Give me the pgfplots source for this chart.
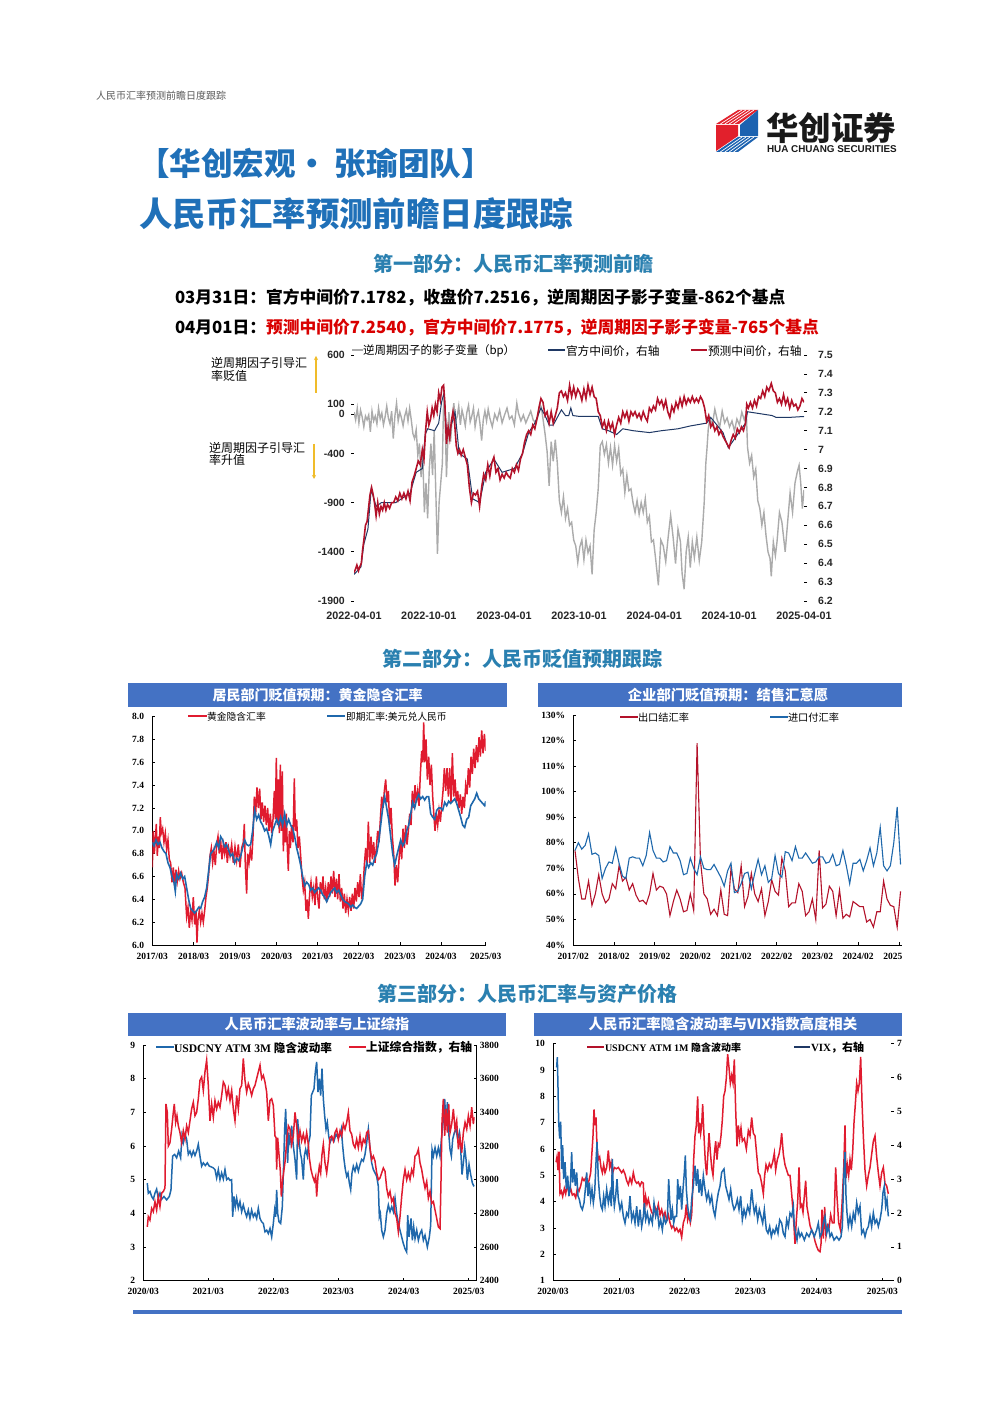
\documentclass[border=0pt]{standalone}
\usepackage{pgfplots}
\pgfplotsset{compat=1.18}
\usepackage{fontspec}
\setmainfont{Liberation Serif}
\newfontfamily\lsans{Liberation Sans}
\newfontfamily\cjk{Noto Sans CJK SC}
\usetikzlibrary{arrows.meta}
\definecolor{bar}{HTML}{4472C4}
\definecolor{ttl}{HTML}{1F70B8}
\definecolor{sec}{HTML}{2A80B0}
\definecolor{rd}{HTML}{E01B2F}
\definecolor{dred}{HTML}{B3122A}
\definecolor{bl}{HTML}{1F68AC}
\definecolor{navy}{HTML}{1F3864}
\definecolor{gy}{HTML}{ABABAB}
\definecolor{gold}{HTML}{F0BC2A}
\definecolor{lr}{HTML}{E2202C}
\definecolor{lb}{HTML}{1C62B0}
\newcommand{\fs}[1]{\fontsize{#1}{#1}\selectfont}
\newcommand{\T}[4][west]{\node[anchor=#1,inner sep=0pt,outer sep=0pt] at ({#2},{1403-#3-0.8}) {#4};}
\newcommand{\LL}[4]{\draw[#4,line width=1.1pt] ({#1},{1403-#3})--({#2},{1403-#3});}
\newcommand{\BAR}[7]{\fill[bar] ({#1},{1403-#2}) rectangle ({#3},{1403-#4});
 \node[white,inner sep=0pt] at ({#6},{1403-(#2+#4)/2}) {\cjk\bfseries\fs{#7}#5};}
\pgfplotsset{sub/.style={scale only axis,tick align=inside,major tick length=3pt,
 tick style={black,line width=.6pt},axis line style={black,line width=.8pt},
 tick label style={font=\bfseries\fs{9.5},inner sep=2pt},axis y line*=left,axis x line*=bottom,
 xtick pos=bottom,xticklabel style={yshift=-5.5pt},yticklabel style={xshift=-6pt}},
 mainc/.style={scale only axis,major tick length=3pt,tick align=outside,axis line style={draw=none},
 tick style={black,line width=.7pt},xtick style={draw=none},
 tick label style={font=\lsans\bfseries\fs{10.5},inner sep=2pt,text=black!85},
 xticklabel style={yshift=-6pt,font=\lsans\bfseries\fs{10.8}}}}
\begin{document}
\begin{tikzpicture}[x=1pt,y=1pt]
\path[use as bounding box,fill=white] (0,0) rectangle (992,1403);
% ---------- header
\T{96}{95}{\cjk\fs{10}\color{black!65}人民币汇率预测前瞻日度跟踪}
\fill[lr] (716,{1403-125})--(738,{1403-125})--(738,{1403-136})--(716,{1403-151})--cycle;
\fill[lr] (716,{1403-124})--(738,{1403-110})--(758,{1403-110})--(739,{1403-124})--cycle;
\foreach \d in {4,8,12,16}{\draw[white,line width=.7pt] ({716+\d*1.1},{1403-124})--({738+\d},{1403-110});}
\fill[lb] (740,{1403-125})--(758,{1403-110})--(758,{1403-136})--(740,{1403-136})--cycle;
\fill[lb] (716,{1403-152})--(738,{1403-137})--(758,{1403-137})--(738,{1403-152})--cycle;
\foreach \d in {4,8,12,16}{\draw[white,line width=.7pt] ({716+\d*1.1},{1403-152})--({738+\d},{1403-137});}
\T[west]{766}{127}{\cjk\bfseries\fs{32.5}\color{black!90}华创证券}
\T[west]{767}{148.5}{\lsans\bfseries\fs{9.9}\color{black!90}HUA CHUANG SECURITIES}
\T{138}{163}{\cjk\bfseries\fs{31.6}\color{ttl}【华创宏观· 张瑜团队】}
\T{139}{213}{\cjk\bfseries\fs{33.4}\color{ttl}人民币汇率预测前瞻日度跟踪}
\T{373}{263}{\cjk\bfseries\fs{20}\color{sec}第一部分：人民币汇率预测前瞻}
\T{175}{297}{\cjk\bfseries\fs{16.75}\color{black}03月31日：官方中间价7.1782，收盘价7.2516，逆周期因子影子变量-862个基点}
\T{175}{327}{\cjk\bfseries\fs{16.75}\color{black}04月01日：\color{red!85!black}预测中间价7.2540，官方中间价7.1775，逆周期因子影子变量-765个基点}
\T{382}{658}{\cjk\bfseries\fs{20}\color{sec}第二部分：人民币贬值预期跟踪}
\T{377}{993}{\cjk\bfseries\fs{20}\color{sec}第三部分：人民币汇率与资产价格}
% ---------- chart 1
\begin{axis}[mainc,at={(354pt,802pt)},anchor=south west,width=450pt,height=246pt,
 xmin=378,xmax=1478,ymin=-1900,ymax=600,axis y line*=left,axis x line*=bottom,
 xtick={378,561,745,928,1112,1295,1478},
 xticklabels={2022-04-01,2022-10-01,2023-04-01,2023-10-01,2024-04-01,2024-10-01,2025-04-01},
 ytick={600,100,0,-400,-900,-1400,-1900},yticklabels={600,100,0,-400,-900,-1400,-1900},
 ytick pos=left,yticklabel style={xshift=-4pt}]
\addplot[gy,line width=1.4pt] coordinates {(378,20)(382,-60)(386,60)(390,-90)(394,40)(398,-30)(402,-130)(406,-20)(410,-60)(414,-10)(418,-180)(422,30)(426,-70)(430,-20)(434,-100)(438,60)(442,-50)(446,10)(450,-110)(454,-30)(458,80)(462,-40)(466,-100)(470,30)(474,-250)(478,-20)(482,110)(486,-70)(490,20)(494,-40)(498,-120)(502,-20)(506,40)(510,-70)(514,60)(518,-60)(522,-200)(526,-250)(530,-160)(534,-420)(538,-300)(542,-640)(546,-400)(550,-1000)(554,-700)(558,-1060)(562,-560)(566,-300)(570,-620)(574,-170)(578,-800)(582,-1420)(586,-900)(590,-700)(594,-500)(597,130)(600,90)(604,-640)(610,20)(614,-280)(618,-40)(622,110)(626,-80)(630,-30)(634,80)(638,-110)(642,40)(646,-30)(650,-120)(654,20)(658,90)(662,-80)(666,-20)(670,60)(674,-130)(678,-30)(682,30)(686,-100)(690,-270)(694,-60)(698,30)(702,-70)(706,50)(710,-40)(716,-130)(722,0)(728,-60)(734,40)(740,-90)(746,-10)(752,60)(758,-50)(764,-20)(770,-110)(776,110)(780,10)(786,-70)(792,-10)(798,-90)(804,-30)(810,30)(816,-60)(822,-90)(828,-20)(832,100)(836,70)(840,-50)(845,-200)(850,-380)(855,-730)(860,-280)(865,-480)(870,-260)(875,-500)(880,-880)(885,-1000)(890,-840)(895,-1060)(900,-960)(905,-1130)(910,-1100)(915,-1280)(920,-1340)(925,-1510)(930,-1350)(935,-1280)(940,-1480)(945,-1280)(950,-1410)(955,-1340)(960,-1630)(965,-1180)(970,-1000)(975,-760)(980,-320)(985,-280)(990,-410)(995,-310)(1000,-500)(1005,-340)(1010,-520)(1015,-320)(1020,-480)(1025,-350)(1030,-610)(1035,-560)(1040,-800)(1045,-620)(1050,-780)(1055,-760)(1060,-900)(1065,-1000)(1070,-880)(1075,-1020)(1080,-900)(1085,-1000)(1090,-860)(1095,-1100)(1100,-1040)(1105,-1300)(1110,-1280)(1115,-1460)(1122,-1740)(1128,-1280)(1134,-1340)(1140,-1500)(1146,-1250)(1152,-1030)(1158,-1250)(1164,-1520)(1170,-1170)(1176,-1300)(1180,-1620)(1185,-1780)(1190,-1400)(1195,-1250)(1200,-1560)(1205,-1300)(1210,-1460)(1216,-1250)(1222,-1490)(1228,-1300)(1234,-900)(1238,-500)(1241,-340)(1244,-150)(1248,-40)(1254,-110)(1260,50)(1266,-60)(1272,-130)(1278,30)(1284,-90)(1290,-40)(1296,-130)(1302,-70)(1308,-170)(1314,-50)(1320,-110)(1326,20)(1332,-60)(1337,10)(1340,-340)(1345,-500)(1350,-420)(1355,-640)(1360,-560)(1365,-880)(1370,-960)(1375,-1130)(1380,-1000)(1385,-1230)(1390,-1400)(1395,-1470)(1398,-1650)(1403,-1300)(1408,-1440)(1412,-1300)(1418,-1000)(1424,-1100)(1432,-1400)(1438,-1100)(1444,-800)(1450,-1000)(1456,-700)(1462,-580)(1466,-520)(1470,-700)(1474,-960)(1478,-770)};
\end{axis}
\begin{axis}[mainc,at={(354pt,802pt)},anchor=south west,width=450pt,height=246pt,
 xmin=378,xmax=1478,ymin=6.2,ymax=7.5,axis y line*=right,axis x line=none,
 ytick={6.2,6.3,6.4,6.5,6.6,6.7,6.8,6.9,7,7.1,7.2,7.3,7.4,7.5},
 yticklabels={6.2,6.3,6.4,6.5,6.6,6.7,6.8,6.9,7,7.1,7.2,7.3,7.4,7.5},ytick pos=right,
 yticklabel style={xshift=9pt}]
\addplot[navy,line width=1pt] coordinates {(378,6.34)(395,6.38)(402,6.5)(412,6.58)(420,6.79)(432,6.7)(445,6.72)(480,6.72)(515,6.77)(530,6.88)(545,6.9)(552,7.08)(558,7.11)(575,7.1)(585,7.14)(592,7.25)(598,7.3)(604,7.1)(612,7.1)(625,7.2)(635,6.98)(655,6.95)(668,6.74)(685,6.72)(700,6.88)(720,6.95)(740,6.88)(770,6.9)(790,6.98)(805,7.09)(820,7.14)(835,7.22)(845,7.18)(855,7.13)(865,7.13)(875,7.17)(885,7.21)(895,7.18)(903,7.18)(908,7.22)(913,7.18)(930,7.175)(975,7.175)(985,7.11)(1000,7.1)(1020,7.08)(1035,7.11)(1060,7.1)(1100,7.09)(1130,7.1)(1170,7.11)(1200,7.125)(1240,7.14)(1250,7.17)(1280,7.09)(1293,7.01)(1335,7.14)(1340,7.2)(1400,7.18)(1410,7.17)(1440,7.17)(1478,7.175)};
\addplot[dred,line width=1.6pt] coordinates {(378,6.35)(382,6.37)(385,6.39)(389,6.36)(392,6.38)(396,6.4)(399,6.47)(402,6.52)(406,6.6)(410,6.62)(414,6.7)(417,6.76)(421,6.8)(425,6.76)(428,6.72)(432,6.65)(436,6.72)(440,6.66)(444,6.7)(448,6.68)(452,6.72)(456,6.68)(460,6.71)(465,6.69)(470,6.72)(475,6.72)(480,6.75)(485,6.73)(490,6.77)(495,6.74)(500,6.77)(505,6.74)(510,6.78)(515,6.73)(520,6.83)(525,6.86)(530,6.9)(535,6.94)(540,6.92)(545,7.0)(549,6.95)(553,7.1)(557,7.2)(561,7.13)(565,7.16)(569,7.22)(573,7.18)(577,7.24)(581,7.2)(585,7.3)(589,7.26)(593,7.33)(597,7.34)(600,7.25)(604,7.03)(608,7.12)(612,7.06)(616,7.15)(620,7.2)(624,7.14)(628,7.02)(632,6.98)(636,7.0)(640,6.97)(645,7)(650,6.96)(655,6.92)(660,6.8)(665,6.72)(670,6.77)(675,6.76)(680,6.78)(685,6.7)(690,6.8)(695,6.87)(700,6.84)(705,6.92)(710,6.86)(715,6.93)(720,6.96)(725,6.88)(730,6.9)(735,6.84)(740,6.87)(745,6.85)(750,6.88)(755,6.86)(760,6.85)(765,6.9)(770,6.88)(775,6.92)(780,6.89)(785,6.95)(790,6.98)(795,7.04)(800,7.08)(805,7.1)(810,7.08)(815,7.13)(820,7.11)(825,7.16)(830,7.22)(835,7.27)(840,7.25)(845,7.18)(850,7.2)(855,7.14)(860,7.2)(865,7.14)(870,7.18)(875,7.22)(880,7.3)(885,7.31)(890,7.28)(895,7.3)(900,7.26)(905,7.34)(910,7.28)(915,7.33)(920,7.28)(925,7.32)(930,7.3)(935,7.26)(940,7.32)(945,7.27)(950,7.34)(955,7.29)(960,7.33)(965,7.28)(970,7.27)(975,7.2)(980,7.18)(985,7.12)(990,7.15)(995,7.1)(1000,7.15)(1005,7.11)(1010,7.14)(1015,7.08)(1020,7.13)(1025,7.17)(1030,7.14)(1035,7.2)(1040,7.17)(1045,7.2)(1050,7.15)(1055,7.2)(1060,7.18)(1065,7.2)(1070,7.17)(1075,7.19)(1080,7.16)(1085,7.2)(1090,7.17)(1095,7.15)(1100,7.22)(1105,7.2)(1110,7.23)(1115,7.21)(1120,7.27)(1125,7.24)(1130,7.26)(1135,7.22)(1140,7.26)(1145,7.2)(1150,7.17)(1155,7.23)(1160,7.2)(1165,7.25)(1170,7.22)(1175,7.27)(1180,7.23)(1185,7.28)(1190,7.24)(1195,7.27)(1200,7.25)(1205,7.28)(1210,7.25)(1215,7.27)(1220,7.25)(1225,7.28)(1230,7.26)(1235,7.22)(1240,7.15)(1245,7.18)(1250,7.12)(1255,7.14)(1260,7.1)(1265,7.12)(1270,7.08)(1275,7.1)(1280,7.07)(1285,7.05)(1290,7.03)(1295,7.01)(1300,7.05)(1305,7.08)(1310,7.06)(1315,7.11)(1320,7.09)(1325,7.12)(1330,7.1)(1335,7.14)(1338,7.24)(1342,7.22)(1347,7.25)(1352,7.22)(1357,7.26)(1362,7.23)(1367,7.28)(1372,7.27)(1377,7.31)(1382,7.28)(1387,7.33)(1392,7.31)(1398,7.35)(1403,7.31)(1408,7.3)(1413,7.25)(1418,7.27)(1423,7.24)(1428,7.29)(1433,7.24)(1438,7.27)(1443,7.22)(1448,7.26)(1453,7.23)(1458,7.24)(1463,7.21)(1468,7.23)(1473,7.27)(1478,7.25)};
\end{axis}
\LL{352}{363}{350}{gy}\T{363}{350}{\cjk\fs{11.5}逆周期因子的影子变量（bp）}
\LL{548}{565}{350}{navy}\T{566}{350}{\cjk\fs{11.7}官方中间价，右轴}
\LL{691}{707}{350}{dred}\T{708}{350}{\cjk\fs{11.7}预测中间价，右轴}
\T{211}{362}{\cjk\fs{12}逆周期因子引导汇}\T{211}{375}{\cjk\fs{12}率贬值}
\T{209}{447}{\cjk\fs{12}逆周期因子引导汇}\T{209}{459}{\cjk\fs{12}率升值}
\draw[gold,line width=1.2pt,-{Stealth[length=4pt,width=4pt]}] (316,{1403-393})--(316,{1403-356});
\draw[gold,line width=1.2pt,-{Stealth[length=4pt,width=4pt]}] (314,{1403-444})--(314,{1403-479});
% ---------- chart 2
\BAR{128}{683}{507}{707}{居民部门贬值预期：黄金隐含汇率}{317.5}{14}
\begin{axis}[sub,at={(152.3pt,458pt)},anchor=south west,width=333.4pt,height=228.3pt,
 xmin=97,xmax=1097,ymin=6,ymax=8,
 xtick={97,221,345,470,593,716,840,963,1097},
 xticklabels={2017/03,2018/03,2019/03,2020/03,2021/03,2022/03,2023/03,2024/03,2025/03},
 ytick={6,6.2,6.4,6.6,6.8,7,7.2,7.4,7.6,7.8,8},yticklabels={6.0,6.2,6.4,6.6,6.8,7.0,7.2,7.4,7.6,7.8,8.0}]
\addplot[rd,line width=1.5pt] coordinates {(97,6.68)(100,7.0)(103,6.8)(106,6.92)(109,7.06)(112,6.78)(115,6.95)(118,6.85)(121,7.12)(124,6.98)(128,7.02)(132,6.9)(136,6.98)(140,6.84)(144,6.92)(148,6.75)(152,6.72)(156,6.55)(160,6.68)(164,6.52)(168,6.66)(172,6.56)(176,6.65)(180,6.58)(185,6.63)(190,6.55)(195,6.5)(200,6.25)(204,6.33)(208,6.15)(212,6.3)(216,6.22)(220,6.42)(224,6.18)(228,6.3)(231,6.02)(234,6.22)(238,6.3)(242,6.2)(246,6.28)(250,6.2)(254,6.3)(258,6.42)(262,6.5)(266,6.62)(270,6.78)(274,6.85)(278,6.72)(282,6.82)(286,6.7)(290,6.88)(294,6.95)(298,6.8)(302,6.92)(306,6.75)(310,6.88)(314,6.8)(318,6.9)(322,6.72)(326,6.85)(330,6.78)(335,6.88)(340,6.72)(345,6.86)(350,6.74)(355,6.88)(360,6.68)(365,6.85)(370,6.9)(373,7.06)(376,6.7)(380,6.45)(383,6.8)(387,6.72)(391,6.84)(395,6.74)(399,6.95)(403,7.3)(407,7.15)(411,7.38)(415,7.2)(419,7.37)(423,7.1)(427,7.25)(431,7.08)(435,7.22)(439,7.05)(443,7.2)(447,7)(451,7.15)(455,6.98)(459,7.1)(463,7.35)(466,7.1)(469,7.64)(472,7.05)(475,7.45)(478,6.98)(481,7.58)(484,7.0)(487,7.52)(490,6.82)(493,7.1)(496,6.9)(499,7.15)(502,6.85)(505,6.65)(508,7.0)(511,6.85)(515,7.05)(519,6.9)(523,7.46)(526,7.0)(530,7.1)(534,6.85)(538,6.95)(542,6.78)(546,6.6)(550,6.48)(554,6.55)(558,6.3)(562,6.4)(565,6.23)(569,6.45)(573,6.55)(577,6.42)(581,6.5)(585,6.35)(589,6.6)(593,6.42)(597,6.32)(601,6.55)(605,6.45)(609,6.6)(613,6.4)(617,6.5)(621,6.38)(625,6.55)(629,6.42)(633,6.6)(637,6.45)(641,6.65)(645,6.42)(649,6.58)(653,6.4)(657,6.62)(661,6.38)(665,6.5)(669,6.32)(673,6.45)(677,6.28)(681,6.4)(685,6.3)(689,6.42)(693,6.3)(697,6.45)(701,6.32)(705,6.5)(709,6.38)(713,6.55)(717,6.42)(721,6.62)(725,6.4)(729,6.5)(733,6.7)(737,6.85)(741,6.7)(745,7.08)(749,6.72)(753,6.95)(757,6.75)(761,6.9)(765,6.72)(769,6.85)(773,7)(777,6.9)(781,7.1)(785,7.3)(789,7.2)(793,7.35)(797,7.45)(801,7.25)(805,7.35)(809,7.05)(813,7.2)(817,6.95)(821,6.8)(825,6.52)(829,6.7)(833,6.55)(837,6.75)(841,6.9)(845,6.75)(849,7.02)(853,6.85)(857,7.05)(861,6.88)(865,7.0)(869,7.15)(873,7.05)(877,7.35)(881,7.2)(885,7.4)(889,7.25)(893,7.35)(897,7.22)(901,7.5)(905,7.7)(908,7.6)(911,7.95)(914,7.6)(918,7.8)(922,7.45)(926,7.65)(930,7.4)(934,7.58)(938,7.3)(942,7.12)(945,7.0)(949,7.15)(953,7.05)(957,7.18)(961,7.08)(965,7.22)(969,7.35)(973,7.55)(977,7.35)(981,7.55)(985,7.3)(989,7.55)(993,7.25)(997,7.68)(1001,7.3)(1005,7.45)(1009,7.25)(1013,7.35)(1017,7.2)(1021,7.32)(1025,7.15)(1029,7.3)(1033,7.2)(1037,7.4)(1041,7.32)(1045,7.55)(1049,7.38)(1053,7.65)(1057,7.5)(1061,7.72)(1065,7.55)(1069,7.75)(1073,7.6)(1077,7.82)(1081,7.65)(1085,7.88)(1089,7.68)(1093,7.85)(1097,7.7)};
\addplot[bl,line width=1.6pt] coordinates {(97,6.9)(102,6.87)(108,6.92)(114,6.88)(120,6.9)(126,6.85)(132,6.82)(138,6.8)(144,6.72)(150,6.68)(156,6.6)(162,6.55)(166,6.47)(170,6.62)(176,6.58)(182,6.63)(188,6.58)(194,6.6)(200,6.5)(206,6.4)(212,6.32)(218,6.3)(224,6.28)(230,6.3)(236,6.33)(242,6.32)(248,6.38)(254,6.42)(260,6.5)(266,6.65)(272,6.8)(278,6.82)(284,6.85)(290,6.9)(296,6.85)(302,6.95)(308,6.92)(314,6.86)(320,6.88)(326,6.83)(332,6.78)(338,6.8)(344,6.72)(350,6.76)(356,6.74)(362,6.78)(368,6.85)(374,6.92)(380,6.88)(386,6.87)(392,6.88)(398,7.0)(404,7.18)(410,7.1)(416,7.14)(422,7.08)(428,7.05)(434,7.0)(440,7.02)(446,6.96)(452,6.88)(458,7.0)(464,7.05)(470,7.1)(476,7.05)(482,7.12)(488,7.05)(494,7.15)(500,7.05)(506,7.1)(512,7.05)(518,7.02)(524,6.95)(530,6.85)(536,6.78)(542,6.7)(548,6.6)(554,6.52)(560,6.55)(566,6.53)(572,6.48)(578,6.5)(584,6.46)(590,6.48)(596,6.5)(602,6.48)(608,6.44)(614,6.42)(620,6.38)(626,6.42)(632,6.46)(638,6.48)(644,6.5)(650,6.46)(656,6.48)(662,6.44)(668,6.4)(674,6.38)(680,6.37)(686,6.36)(692,6.33)(698,6.35)(704,6.33)(710,6.32)(716,6.34)(722,6.36)(728,6.4)(734,6.6)(740,6.72)(746,6.68)(752,6.72)(758,6.7)(764,6.76)(770,6.8)(776,6.9)(782,7.05)(788,7.2)(794,7.3)(800,7.2)(806,7.1)(812,6.95)(818,6.8)(824,6.7)(830,6.78)(836,6.85)(842,6.92)(848,6.87)(854,6.9)(860,7.0)(866,7.05)(872,7.15)(878,7.25)(884,7.2)(890,7.28)(896,7.32)(902,7.28)(908,7.3)(914,7.27)(920,7.3)(926,7.3)(932,7.15)(938,7.12)(944,7.1)(950,7.18)(956,7.2)(962,7.2)(968,7.18)(974,7.25)(980,7.22)(986,7.26)(992,7.24)(998,7.26)(1004,7.28)(1010,7.24)(1016,7.18)(1022,7.12)(1028,7.05)(1034,7.03)(1040,7.1)(1046,7.12)(1052,7.22)(1058,7.25)(1064,7.28)(1070,7.33)(1076,7.28)(1082,7.26)(1088,7.24)(1094,7.22)(1097,7.26)};
\end{axis}
\LL{188}{207}{716}{rd}\T{207}{716}{\cjk\fs{9.8}黄金隐含汇率}
\LL{327}{345}{716}{bl}\T{346}{716}{\cjk\fs{9.8}即期汇率:美元兑人民币}
% ---------- chart 3
\BAR{538}{683}{902}{707}{企业部门贬值预期：结售汇意愿}{728}{14.3}
\begin{axis}[sub,at={(573.3pt,458pt)},anchor=south west,width=333.7pt,height=230pt,
 xmin=0,xmax=98.4,ymin=40,ymax=130,
 xtick={0,12,24,36,48,60,72,84,96},
 xticklabels={2017/02,2018/02,2019/02,2020/02,2021/02,2022/02,2023/02,2024/02,2025/02},
 ytick={40,50,60,70,80,90,100,110,120,130},
 yticklabels={40\%,50\%,60\%,70\%,80\%,90\%,100\%,110\%,120\%,130\%}]
\addplot[dred,line width=1.1pt] coordinates {(0.5,77)(1.5,66)(2.5,58)(3.5,58)(4.5,65)(5.5,55.5)(6.5,60)(7.5,67.5)(8.5,60)(9.5,56.5)(10.5,58)(11.5,64)(12.5,62)(13.5,71)(14.5,65)(15.5,66.5)(16.5,61.5)(17.5,64)(18.5,59.5)(19.5,57)(20.5,57.5)(21.5,56)(22.5,60)(23.5,68)(24.5,61.5)(25.5,63)(26.5,62.5)(27.5,60)(28.5,51.5)(29.5,57)(30.5,61.5)(31.5,58)(32.5,53)(33.5,53.5)(34.5,60)(35.5,53.5)(36.5,119)(37.5,73)(38.5,60)(39.5,58)(40.5,52)(41.5,54)(42.5,51.5)(43.5,61.5)(44.5,52)(45.5,51.5)(46.5,70)(47.5,62)(48.5,60.5)(49.5,71)(50.5,55)(51.5,59)(52.5,68)(53.5,60)(54.5,57)(55.5,62)(56.5,51.5)(57.5,57)(58.5,65.5)(59.5,61)(60.5,59.5)(61.5,74)(62.5,69)(63.5,55)(64.5,56.5)(65.5,56.5)(66.5,64)(67.5,61)(68.5,51.5)(69.5,53)(70.5,58)(71.5,50)(72.5,77)(73.5,54.5)(74.5,56)(75.5,63)(76.5,61)(77.5,51.5)(78.5,61.5)(79.5,50.5)(80.5,52)(81.5,51)(82.5,57)(83.5,56)(84.5,55)(85.5,55)(86.5,49)(87.5,50)(88.5,47)(89.5,53)(90.5,53)(91.5,65)(92.5,58)(93.5,55.5)(94.5,55)(95.5,47)(96.5,61)};
\addplot[bl,line width=1.1pt] coordinates {(0.5,77)(1.5,80)(2.5,77.5)(3.5,79)(4.5,83.5)(5.5,75.5)(6.5,76)(7.5,75)(8.5,66)(9.5,70)(10.5,72.5)(11.5,72)(12.5,78)(13.5,72)(14.5,67)(15.5,66)(16.5,74)(17.5,74.5)(18.5,74)(19.5,74)(20.5,71)(21.5,75)(22.5,84)(23.5,77)(24.5,74)(25.5,74)(26.5,72.5)(27.5,73)(28.5,78.5)(29.5,76)(30.5,76)(31.5,73)(32.5,67.5)(33.5,68)(34.5,74)(35.5,70)(36.5,67.5)(37.5,74.5)(38.5,70)(39.5,69.5)(40.5,69.5)(41.5,71.5)(42.5,69)(43.5,66.5)(44.5,63)(45.5,69)(46.5,72)(47.5,60.5)(48.5,61)(49.5,64)(50.5,68)(51.5,68.5)(52.5,62)(53.5,68)(54.5,73.5)(55.5,67.5)(56.5,71)(57.5,64.5)(58.5,66)(59.5,75)(60.5,68)(61.5,66.5)(62.5,76.5)(63.5,76)(64.5,73)(65.5,78.5)(66.5,74)(67.5,74)(68.5,76)(69.5,74)(70.5,72)(71.5,72.5)(72.5,74.5)(73.5,74.5)(74.5,72)(75.5,72.5)(76.5,75.5)(77.5,71)(78.5,71.5)(79.5,77)(80.5,71)(81.5,64)(82.5,72)(83.5,72)(84.5,73.5)(85.5,69)(86.5,73)(87.5,78)(88.5,71)(89.5,76)(90.5,86)(91.5,71)(92.5,69)(93.5,71)(94.5,80)(95.5,94)(96.5,71.5)};
\end{axis}
\LL{620}{638}{717}{dred}\T{638}{717}{\cjk\fs{10.2}出口结汇率}
\LL{770}{788}{717}{bl}\T{788}{717}{\cjk\fs{10.2}进口付汇率}
% ---------- chart 4
\BAR{128}{1013}{506}{1036}{人民币汇率波动率与上证综指}{317}{14.2}
\begin{axis}[sub,at={(143.3pt,122.3pt)},anchor=south west,width=333.4pt,height=235.7pt,
 xmin=70,xmax=1070,ymin=2,ymax=9,
 xtick={70,265,461,655,851,1046},
 xticklabels={2020/03,2021/03,2022/03,2023/03,2024/03,2025/03},
 ytick={2,3,4,5,6,7,8,9},yticklabels={2,3,4,5,6,7,8,9}]
\addplot[bl,line width=1.5pt] coordinates {(82,4.9)(85,4.6)(90,4.65)(95,4.5)(100,4.42)(105,4.6)(110,4.72)(115,4.45)(120,4.6)(125,4.42)(132,4.5)(140,4.4)(148,4.5)(153,4.7)(158,5.7)(164,5.75)(170,5.65)(176,5.85)(182,5.65)(186,6.3)(190,6.1)(195,6.35)(200,6.2)(205,5.75)(210,5.85)(215,5.7)(220,5.85)(225,5.72)(230,5.85)(235,6.05)(240,5.7)(245,5.4)(250,5.5)(256,5.42)(262,5.5)(268,5.4)(274,5.38)(280,5.35)(285,5.3)(290,5.05)(295,5.3)(300,5.0)(305,5.2)(310,5.02)(315,5.3)(320,5)(325,5.05)(330,4.98)(335,5)(338,3.9)(342,4.5)(346,4.2)(350,4.45)(355,4.15)(360,4.35)(365,4.05)(370,4.25)(375,4.05)(380,3.9)(385,4.1)(390,3.85)(395,4.1)(400,3.9)(405,4)(410,3.85)(415,4.15)(420,3.85)(425,3.75)(430,3.7)(435,3.45)(440,3.5)(445,3.4)(450,3.55)(455,3.3)(460,3.7)(464,4.1)(467,3.9)(470,4.7)(473,4)(477,3.75)(482,3.7)(487,4.2)(491,5.5)(494,6.5)(497,7.1)(500,6.2)(503,5.5)(506,6.4)(510,6.1)(515,6.6)(520,6)(525,5.6)(530,5)(533,6.8)(537,6.2)(541,5.8)(545,5.6)(550,5)(553,5.7)(557,5.9)(562,5.7)(566,6.1)(570,6.3)(574,7.5)(578,7.6)(582,7.7)(586,8.2)(590,8.5)(594,7.6)(598,8)(602,7.5)(606,8.3)(610,7.4)(614,6.9)(618,6.5)(622,6.7)(626,6.3)(630,6.1)(636,6.25)(642,6.15)(648,6.35)(654,6.25)(660,6.3)(664,6.5)(668,6)(672,5.6)(676,5.3)(680,5.1)(684,5.2)(688,4.9)(692,4.7)(696,5.2)(700,5.4)(705,5.25)(710,5.45)(715,5.25)(720,5.45)(725,5.6)(730,5.55)(735,5.75)(740,6.1)(745,6.5)(750,5.9)(755,5.5)(760,5.3)(765,5.2)(770,5.1)(775,4.8)(778,3.9)(781,4)(785,3.5)(790,3.3)(795,3.5)(800,4)(805,4.25)(810,4.05)(815,4.2)(820,4.05)(825,4.45)(830,4)(835,3.7)(840,3.5)(845,3.3)(850,3.1)(855,2.95)(860,2.85)(863,3.95)(867,3.3)(870,3.6)(873,3.85)(877,3.2)(881,3.6)(885,3.25)(890,3.5)(895,3.2)(900,3.4)(905,3.5)(910,3.2)(915,3.35)(922,3)(928,3.3)(932,3.65)(936,5.9)(940,5.7)(945,5.95)(950,5.7)(955,5.95)(960,5.7)(965,6.3)(970,6.8)(974,7.4)(978,6.6)(982,7.3)(986,6.4)(990,5.9)(994,5.7)(998,6.2)(1003,6.4)(1008,6.5)(1013,6.2)(1018,6.4)(1022,5.9)(1026,5.15)(1030,5.5)(1034,5.95)(1038,5.6)(1042,5)(1047,5.45)(1052,5.15)(1057,4.9)(1062,4.8)};
\end{axis}
\begin{axis}[sub,at={(143.3pt,122.3pt)},anchor=south west,width=333.4pt,height=235.7pt,
 xmin=70,xmax=1070,ymin=2400,ymax=3800,axis y line*=right,axis x line=none,
 yticklabel style={xshift=7pt},
 ytick={2400,2600,2800,3000,3200,3400,3600,3800},yticklabels={2400,2600,2800,3000,3200,3400,3600,3800}]
\addplot[rd,line width=1.5pt] coordinates {(82,2720)(85,2780)(90,2760)(95,2830)(100,2810)(105,2870)(110,2820)(115,2900)(120,2840)(125,2920)(130,2930)(135,2950)(138,3450)(142,3400)(145,3200)(150,3220)(155,3300)(160,3400)(163,3450)(167,3340)(171,3380)(175,3320)(180,3280)(185,3220)(190,3290)(195,3240)(200,3320)(205,3280)(210,3350)(215,3420)(220,3460)(225,3380)(230,3400)(235,3480)(240,3590)(245,3610)(250,3530)(255,3640)(260,3710)(265,3560)(270,3350)(275,3450)(280,3370)(285,3470)(290,3420)(295,3460)(300,3430)(305,3500)(310,3580)(315,3560)(320,3490)(325,3540)(330,3470)(335,3530)(340,3420)(345,3350)(350,3500)(355,3420)(360,3540)(365,3560)(370,3720)(375,3590)(380,3520)(385,3570)(390,3540)(395,3500)(400,3540)(405,3560)(410,3600)(415,3640)(420,3680)(425,3600)(430,3620)(435,3580)(440,3520)(445,3350)(450,3470)(455,3480)(460,3440)(465,3260)(468,3250)(470,3060)(473,3250)(477,3150)(481,3050)(484,2900)(488,3000)(492,3060)(496,3120)(500,3230)(505,3320)(510,3300)(515,3210)(520,3260)(525,3400)(530,3320)(535,3220)(540,3290)(545,3230)(550,3270)(555,3220)(560,3280)(565,3210)(568,3130)(573,3060)(578,3020)(583,2990)(587,3020)(590,2900)(594,3020)(598,3080)(602,3040)(606,3150)(610,3210)(615,3100)(620,3040)(625,3120)(630,3250)(635,3260)(640,3230)(645,3280)(650,3300)(655,3240)(660,3290)(665,3260)(670,3330)(675,3300)(680,3340)(685,3400)(690,3290)(695,3270)(700,3210)(705,3190)(710,3240)(715,3190)(720,3260)(725,3190)(730,3240)(735,3220)(740,3280)(745,3290)(750,3190)(755,3120)(760,3140)(765,3110)(770,3040)(775,3000)(780,3010)(785,3040)(790,3070)(795,3050)(800,2950)(805,2900)(810,2930)(815,2870)(820,2890)(825,2800)(830,2770)(835,2690)(840,2780)(845,2900)(850,3000)(855,3060)(860,3000)(865,3040)(870,3000)(875,3060)(880,3030)(885,3140)(890,3150)(895,3180)(900,3100)(905,3060)(910,3000)(915,2950)(920,2990)(925,2890)(930,2930)(935,2860)(940,2870)(945,2820)(950,2770)(955,2720)(960,2710)(963,3000)(966,3350)(970,3480)(974,3260)(978,3420)(982,3280)(986,3450)(990,3280)(995,3330)(1000,3420)(1005,3300)(1010,3350)(1015,3180)(1020,3250)(1025,3160)(1030,3280)(1035,3340)(1040,3300)(1045,3380)(1050,3320)(1055,3430)(1060,3330)(1062,3370)};
\end{axis}
\LL{156}{174}{1047}{bl}\T{174}{1047}{\bfseries\fs{11.6}USDCNY ATM 3M \cjk\fs{11.6}隐含波动率}
\LL{349}{366}{1047}{rd}\T{366}{1047}{\cjk\bfseries\fs{11.8}上证综合指数，右轴}
% ---------- chart 5
\BAR{534}{1013}{902}{1036}{人民币汇率隐含波动率与VIX指数高度相关}{723}{14.4}
\begin{axis}[sub,at={(553pt,122.3pt)},anchor=south west,width=338pt,height=237pt,
 xmin=84,xmax=1098,ymin=1,ymax=10,axis y line*=left,
 xtick={84,282,479,676,875,1072},
 xticklabels={2020/03,2021/03,2022/03,2023/03,2024/03,2025/03},
 ytick={1,2,3,4,5,6,7,8,9,10},yticklabels={1,2,3,4,5,6,7,8,9,10}]
\addplot[rd,line width=1.5pt] coordinates {(93,5.5)(96,5.7)(99,5.2)(102,5.9)(105,4.3)(109,4.4)(113,4.2)(118,4.5)(122,4.3)(127,4.65)(132,4.3)(137,4.5)(142,4.25)(147,4.3)(152,4.15)(157,4.5)(162,4.4)(167,4.6)(172,4.9)(177,4.8)(182,4.9)(187,4.7)(192,4.8)(197,5.1)(201,5.9)(204,6.5)(207,7.5)(210,6.9)(213,7.2)(216,6.1)(220,5.6)(224,5.7)(228,5.3)(232,5.1)(236,5.4)(240,5.1)(245,5.3)(250,5.95)(254,5.3)(258,5.5)(262,5.05)(268,5.3)(274,5.25)(280,5.3)(285,5.2)(290,5.1)(295,5.2)(300,5.05)(305,4.8)(310,4.65)(315,4.9)(320,4.7)(325,5.1)(330,4.8)(335,4.7)(340,4.75)(345,4.6)(350,4.75)(355,4.7)(358,3.6)(362,4.2)(366,3.9)(370,4.1)(375,3.8)(380,3.6)(385,3.5)(390,3.8)(395,3.6)(400,3.9)(405,3.5)(410,3.7)(415,3.4)(420,3.6)(425,3.3)(430,3.5)(435,3.2)(440,3.0)(445,3.1)(450,2.9)(455,3)(460,2.85)(465,2.95)(470,2.65)(475,3.2)(480,3.4)(484,3.9)(488,3.3)(492,3.5)(496,3.2)(500,3.5)(503,4.5)(506,5.6)(510,6.5)(514,6.9)(518,8)(521,6.6)(524,7)(527,6.6)(530,6.9)(533,7.7)(537,6.5)(541,5.5)(545,5.0)(549,5.9)(552,6.6)(556,5.9)(560,5.3)(564,5)(568,5.8)(572,6.3)(576,5.6)(580,6.2)(584,6.1)(588,6.5)(592,7.1)(596,8)(600,8.2)(604,8.7)(608,9.6)(612,9.1)(616,8.5)(620,8.8)(624,8.5)(628,9.4)(632,7.5)(636,6.1)(640,6.9)(644,6.4)(648,6.8)(652,6.3)(658,6.4)(664,6)(670,6.7)(675,6.5)(680,7.2)(685,6.6)(690,6.5)(695,5.8)(700,5.1)(705,5)(710,4.7)(715,4.3)(719,5)(723,5.4)(728,5.2)(733,5.45)(738,5.3)(743,5.5)(748,5.85)(752,5.2)(757,5.6)(762,5.8)(766,6.1)(770,6.6)(775,5.8)(780,5.4)(785,5.2)(790,5)(795,5)(800,4.3)(805,3.5)(810,2.4)(814,3.3)(818,4)(822,5.3)(826,3.8)(830,3.9)(834,3.6)(838,4.2)(842,4.8)(846,3.8)(850,3.5)(855,3.1)(860,2.9)(865,2.8)(870,2.5)(875,2.3)(880,2.15)(885,2.1)(888,2.4)(891,3.7)(895,2.6)(899,3.8)(903,2.7)(908,3.1)(912,3)(917,3.5)(922,3.2)(927,3.2)(932,5.3)(936,4.2)(941,3.2)(946,2.95)(951,3.9)(956,5.2)(960,6.9)(963,4.9)(967,5.4)(971,5)(975,5.6)(979,5.2)(983,5.9)(987,7)(991,7.7)(995,8.5)(999,8.2)(1003,8.5)(1007,9.5)(1011,7.8)(1015,6.5)(1020,5.2)(1025,4.6)(1030,5)(1035,5.3)(1040,5.8)(1045,6.3)(1050,6.5)(1055,5.7)(1060,5.1)(1065,4.6)(1070,5.1)(1075,5.3)(1080,4.7)(1085,4.6)(1090,4.3)};
\end{axis}
\begin{axis}[sub,at={(553pt,122.3pt)},anchor=south west,width=338pt,height=237pt,
 xmin=84,xmax=1098,ymin=0,ymax=70,axis y line*=right,axis x line=none,axis line style={draw=none},
 tick align=outside,yticklabel style={xshift=7pt},
 ytick={0,10,20,30,40,50,60,70},yticklabels={0,10,20,30,40,50,60,70}]
\addplot[bl,line width=1.5pt] coordinates {(95,63)(97,66)(99,57)(101,47)(104,42)(107,47)(110,33)(113,40)(116,30)(120,35)(124,27)(128,31)(132,25)(136,28)(140,38)(143,29)(147,33)(151,28)(155,32)(159,25)(163,24)(167,22)(172,21)(177,23)(182,28)(185,32)(189,25)(193,29)(197,24)(201,27)(205,23)(209,26)(213,35)(216,41)(220,30)(224,25)(228,22)(232,21)(236,25)(240,22)(245,27)(250,23)(255,26)(259,22)(262,36)(265,26)(268,22)(272,25)(276,30)(280,24)(285,21)(290,23)(295,19)(300,17)(305,20)(310,19)(315,25)(320,18)(325,20)(330,17)(335,22)(340,16)(345,21)(350,16)(355,19)(358,23)(362,18)(367,20)(372,17)(377,19)(382,17)(387,23)(392,19)(397,21)(402,16)(407,18)(412,15)(417,19)(422,17)(427,18)(431,30)(434,24)(438,18)(442,21)(446,17)(450,19)(455,19)(458,30)(462,24)(466,28)(470,21)(474,27)(478,32)(481,37)(484,27)(488,22)(492,19)(496,18)(500,24)(505,28)(510,34)(514,28)(518,33)(522,26)(526,30)(530,25)(535,31)(540,27)(545,24)(550,26)(555,23)(560,25)(565,21)(570,19)(575,23)(580,26)(585,28)(590,32)(597,33)(602,28)(607,26)(612,24)(617,27)(622,23)(627,21)(632,22)(637,24)(642,21)(647,25)(652,18)(657,21)(662,19)(668,22)(674,20)(680,27)(684,23)(688,20)(693,22)(698,18)(703,21)(708,19)(713,17)(718,21)(724,15)(729,14)(734,16)(739,13)(744,15)(749,14)(754,16)(759,14)(764,18)(770,17)(775,14)(780,13)(785,18)(790,16)(795,20)(800,19)(805,22)(808,16)(812,14)(816,12)(820,15)(825,13)(830,14)(838,12)(845,14)(852,13)(860,15)(868,13)(875,15)(880,17)(885,13)(890,14)(895,17)(900,19)(905,14)(910,16)(915,13)(920,14)(927,12)(935,13)(942,12)(948,13)(952,16)(956,30)(960,38)(963,25)(966,20)(970,16)(975,19)(980,16)(985,20)(990,18)(995,23)(1000,20)(1005,22)(1010,14)(1015,15)(1020,13)(1025,15)(1030,16)(1035,19)(1040,16)(1045,20)(1050,17)(1055,18)(1060,16)(1065,18)(1070,21)(1074,26)(1078,28)(1082,22)(1086,24)(1090,19)};
\end{axis}
\LL{587}{604}{1047}{dred}\T{605}{1047}{\bfseries\fs{10}USDCNY ATM 1M \cjk\fs{10}隐含波动率}
\LL{794}{810}{1047}{navy}\T{811}{1047}{\bfseries\fs{11}VIX\cjk\fs{11}，右轴}
% ---------- bottom rule and right clip
\fill[bar] (133,{1403-1314}) rectangle (902,{1403-1310});
\fill[white] (902,{1403-670}) rectangle (992,{1403-1320});
\end{tikzpicture}
\end{document}
